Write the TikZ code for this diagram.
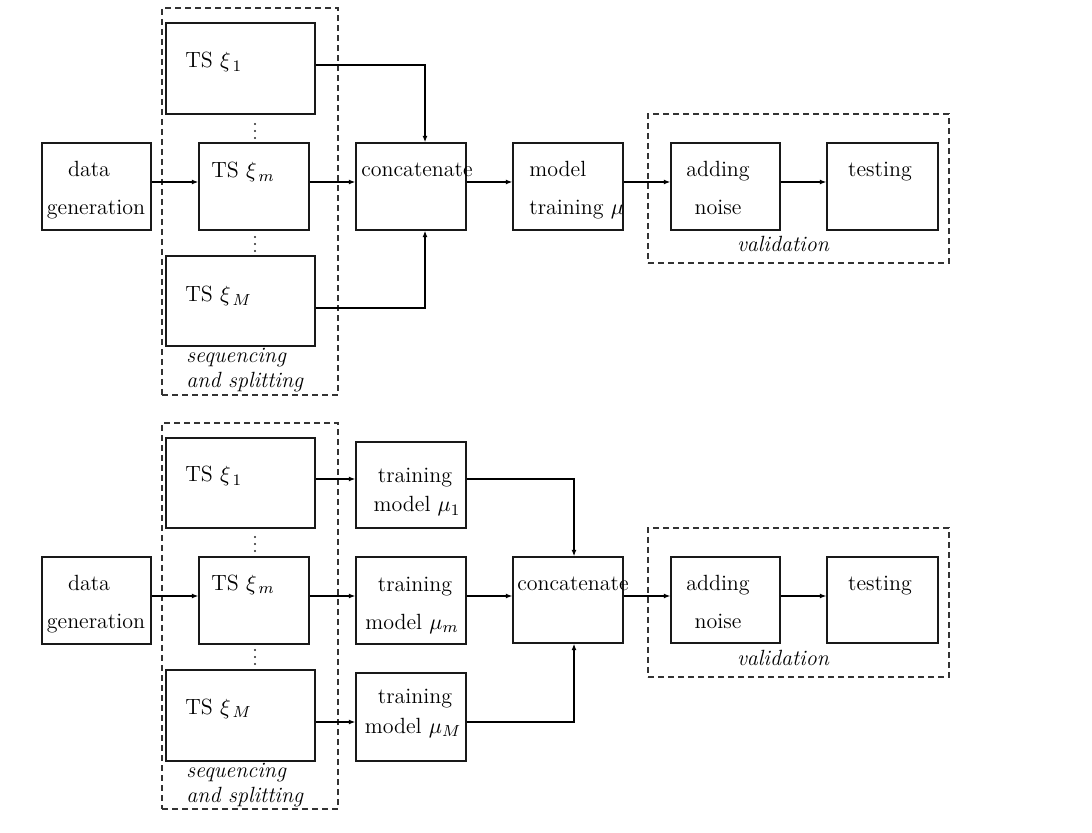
\documentclass[tikz,border=0pt]{standalone}
\usetikzlibrary{fit,arrows.meta}
\begin{document}
\begin{tikzpicture}[x=0.5pt,y=-0.5pt,
  box/.style={draw=black!90, line width=0.65pt, inner sep=0pt},
  group/.style={draw=black!80, line width=0.65pt, dash pattern=on 3pt off 2pt, inner sep=0pt},
  lbl/.style={anchor=base, inner sep=0pt, font=\fontsize{11}{13}\selectfont},
  lblw/.style={lbl, anchor=base west},
  grptxt/.style={lblw, font=\fontsize{11}{13}\selectfont\itshape},
  grptxtc/.style={lbl, font=\fontsize{11}{13}\selectfont\itshape},
  arr/.style={line width=0.6pt, -{Latex[length=3.2pt,width=2.4pt]}},
  dot/.style={fill=black!85}
]
\newcommand\blk[5]{\node[box, fit={(#2,#3) (#4,#5)}] (#1) {};}
\newcommand\grp[5]{\node[group, fit={(#2,#3) (#4,#5)}] (#1) {};}
\newcommand\vdts[2]{\node[inner sep=0pt] (#1) at #2 {};
  \fill[dot] (#1) circle (0.6pt);
  \fill[dot] ([yshift=3.5pt]#1.center) circle (0.6pt);
  \fill[dot] ([yshift=-3.5pt]#1.center) circle (0.6pt);}

\path[use as bounding box] (0,0) rectangle (1092,833);

% ---------------- sequential training ----------------
\grp{seqA}{162}{8}{338}{395}
\grp{valA}{648}{114}{949}{263}
\blk{dgA}{42}{143}{151}{230}
\blk{tsA1}{166}{23}{315}{114}
\blk{tsAm}{199}{143}{309}{230}
\blk{tsAM}{166}{256}{315}{346}
\blk{catA}{356}{143}{466}{230}
\blk{trA}{513}{143}{623}{230}
\blk{noiseA}{671}{143}{780}{230}
\blk{testA}{827}{143}{938}{230}
\vdts{dotsA1}{(255,131)}
\vdts{dotsA2}{(255,244)}

\node[lbl] (tdgA1) at (89,177) {data};
\node[lbl] (tdgA2) at (96,215) {generation};
\node[lblw] (ttsA1) at (185,68) {TS $\xi_{\,1}$};
\node[lblw] (ttsAm) at (211,178) {TS $\xi_{\,m}$};
\node[lblw] (ttsAM) at (185,302) {TS $\xi_{\,M}$};
\node[lbl] (tcatA) at (417,177) {concatenate};
\node[lblw] (ttrA1) at (529,177) {model};
\node[lblw] (ttrA2) at (529,215) {training $\mu$};
\node[lbl] (tnoiseA1) at (718,177) {adding};
\node[lbl] (tnoiseA2) at (718,215) {noise};
\node[lbl] (ttestA) at (880,177) {testing};
\node[grptxtc] (tvalA) at (783,252) {validation};
\node[grptxt] (tseqA1) at (186,363) {sequencing};
\node[grptxt] (tseqA2) at (186,388) {and splitting};

\coordinate (rowA) at (0,182);
\coordinate (rowA1) at (0,65);
\coordinate (rowAM) at (0,308);
\coordinate (colA) at (425,0);
\draw[arr] (dgA.east |- rowA) -- (tsAm.west |- rowA);
\draw[arr] (tsAm.east |- rowA) -- (catA.west |- rowA);
\draw[arr] (catA.east |- rowA) -- (trA.west |- rowA);
\draw[arr] (trA.east |- rowA) -- (noiseA.west |- rowA);
\draw[arr] (noiseA.east |- rowA) -- (testA.west |- rowA);
\draw[arr] (tsA1.east |- rowA1) -| (colA |- catA.north);
\draw[arr] (tsAM.east |- rowAM) -| (colA |- catA.south);

% ---------------- parallel training ----------------
\grp{seqB}{162}{423}{338}{809}
\grp{valB}{648}{528}{949}{677}
\blk{dgB}{42}{557}{151}{644}
\blk{tsB1}{166}{438}{315}{528}
\blk{tsBm}{199}{557}{309}{644}
\blk{tsBM}{166}{670}{315}{761}
\blk{muB1}{356}{442}{466}{528}
\blk{muBm}{356}{557}{466}{644}
\blk{muBM}{356}{673}{466}{761}
\blk{catB}{513}{557}{623}{643}
\blk{noiseB}{671}{557}{780}{643}
\blk{testB}{827}{557}{938}{643}
\vdts{dotsB1}{(255,544)}
\vdts{dotsB2}{(255,657)}

\node[lbl] (tdgB1) at (89,590) {data};
\node[lbl] (tdgB2) at (96,628) {generation};
\node[lblw] (ttsB1) at (185,482) {TS $\xi_{\,1}$};
\node[lblw] (ttsBm) at (211,590) {TS $\xi_{\,m}$};
\node[lblw] (ttsBM) at (185,714) {TS $\xi_{\,M}$};
\node[lbl] (tmuB1a) at (415,483) {training};
\node[lbl] (tmuB1b) at (417,512) {model $\mu_1$};
\node[lbl] (tmuBma) at (415,592) {training};
\node[lbl] (tmuBmb) at (412,629) {model $\mu_m$};
\node[lbl] (tmuBMa) at (415,703) {training};
\node[lbl] (tmuBMb) at (413,733) {model $\mu_M$};
\node[lbl] (tcatB) at (573,590) {concatenate};
\node[lbl] (tnoiseB1) at (718,590) {adding};
\node[lbl] (tnoiseB2) at (718,628) {noise};
\node[lbl] (ttestB) at (880,590) {testing};
\node[grptxtc] (tvalB) at (783,665) {validation};
\node[grptxt] (tseqB1) at (186,777) {sequencing};
\node[grptxt] (tseqB2) at (186,802) {and splitting};

\coordinate (rowB1) at (0,479);
\coordinate (rowBm) at (0,596);
\coordinate (rowBM) at (0,722);
\coordinate (colB) at (574,0);
\draw[arr] (dgB.east |- rowBm) -- (tsBm.west |- rowBm);
\draw[arr] (tsB1.east |- rowB1) -- (muB1.west |- rowB1);
\draw[arr] (tsBm.east |- rowBm) -- (muBm.west |- rowBm);
\draw[arr] (tsBM.east |- rowBM) -- (muBM.west |- rowBM);
\draw[arr] (muBm.east |- rowBm) -- (catB.west |- rowBm);
\draw[arr] (muB1.east |- rowB1) -| (colB |- catB.north);
\draw[arr] (muBM.east |- rowBM) -| (colB |- catB.south);
\draw[arr] (catB.east |- rowBm) -- (noiseB.west |- rowBm);
\draw[arr] (noiseB.east |- rowBm) -- (testB.west |- rowBm);
\end{tikzpicture}
\end{document}
